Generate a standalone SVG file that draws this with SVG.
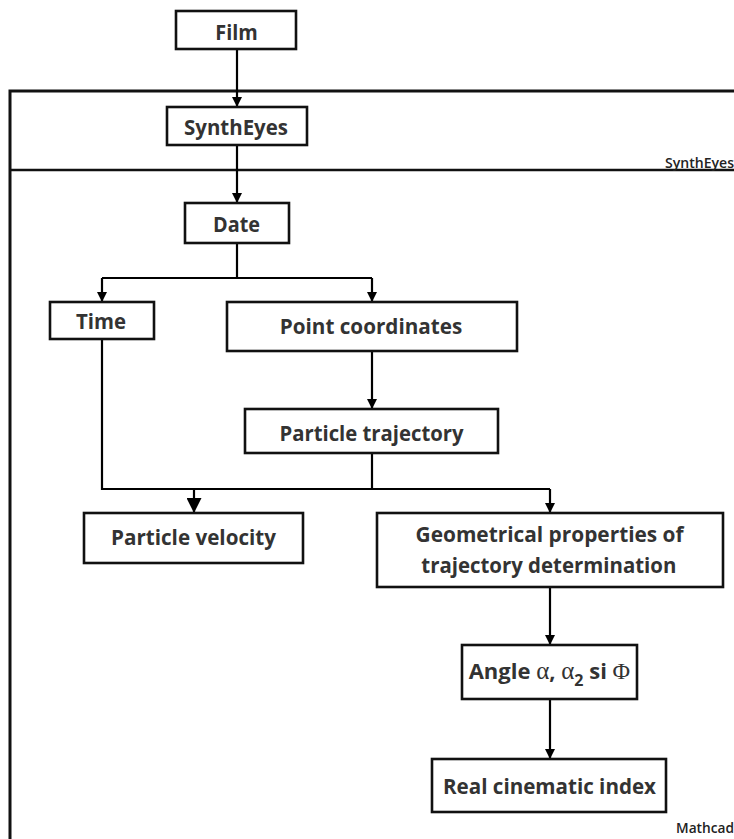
<svg xmlns="http://www.w3.org/2000/svg" width="734" height="839" viewBox="0 0 734 839">
<style>
.box{fill:#fff;stroke:#111;stroke-width:2.6}
.t{font-family:"Open Sans","Noto Sans","Liberation Sans",sans-serif;font-weight:700;font-size:22px;fill:#333;text-anchor:middle}
.lbl{font-family:"Open Sans","Noto Sans","Liberation Sans",sans-serif;font-weight:600;font-size:13.5px;fill:#222}
.c{fill:none;stroke:#000;stroke-width:2.2}
.g{font-family:"Liberation Serif","Times New Roman",serif;font-weight:400}
</style>
<defs>
<marker id="a" viewBox="0 0 10 10" refX="10" refY="5" markerWidth="10" markerHeight="10" markerUnits="userSpaceOnUse" orient="auto"><path d="M0,0 L10,5 L0,10 Z" fill="#000"/></marker>
<marker id="b" viewBox="0 0 10 10" refX="10" refY="5" markerWidth="15" markerHeight="15" markerUnits="userSpaceOnUse" orient="auto"><path d="M0,0 L10,5 L0,10 Z" fill="#000"/></marker>
</defs>
<rect width="734" height="839" fill="#fff"/>
<g id="frame">
<rect x="10" y="91" width="740" height="760" fill="none" stroke="#111" stroke-width="3"/>
<line x1="10" y1="170" x2="734" y2="170" stroke="#111" stroke-width="2.6"/>
<text class="lbl" x="734" y="168" text-anchor="end" textLength="69" lengthAdjust="spacingAndGlyphs">SynthEyes</text>
<text class="lbl" x="734" y="833" text-anchor="end" textLength="58" lengthAdjust="spacingAndGlyphs">Mathcad</text>
</g>
<g id="connectors">
<path class="c" d="M237,50 V107" marker-end="url(#a)"/>
<path class="c" d="M237,146 V203" marker-end="url(#a)"/>
<path class="c" d="M237,243 V278 M102,278 H372"/>
<path class="c" d="M102,278 V302" marker-end="url(#a)"/>
<path class="c" d="M372,278 V302" marker-end="url(#a)"/>
<path class="c" d="M372,351 V409" marker-end="url(#a)"/>
<path class="c" d="M102,339 V489 H550 M372,453 V489"/>
<path class="c" d="M194,489 V513" marker-end="url(#b)"/>
<path class="c" d="M550,489 V513" marker-end="url(#a)"/>
<path class="c" d="M550,587 V645" marker-end="url(#a)"/>
<path class="c" d="M550,699 V759" marker-end="url(#a)"/>
</g>
<g id="film"><rect class="box" x="176" y="11" width="120" height="38"/><text class="t" x="236.5" y="39.5" font-size="20" textLength="42.5" lengthAdjust="spacingAndGlyphs">Film</text></g>
<g id="syntheyes"><rect class="box" x="167" y="107" width="140" height="38"/><text class="t" x="236" y="135" font-size="20" textLength="104" lengthAdjust="spacingAndGlyphs">SynthEyes</text></g>
<g id="date"><rect class="box" x="185" y="203" width="104" height="40"/><text class="t" x="236.5" y="232.3" textLength="47" lengthAdjust="spacingAndGlyphs">Date</text></g>
<g id="time"><rect class="box" x="50" y="302" width="104" height="37"/><text class="t" x="101" y="329.3" textLength="50" lengthAdjust="spacingAndGlyphs">Time</text></g>
<g id="point-coordinates"><rect class="box" x="227" y="302" width="290" height="49"/><text class="t" x="371" y="334.3" textLength="182.5" lengthAdjust="spacingAndGlyphs">Point coordinates</text></g>
<g id="particle-trajectory"><rect class="box" x="245" y="409" width="253" height="44"/><text class="t" x="371.5" y="440.7" textLength="184" lengthAdjust="spacingAndGlyphs">Particle trajectory</text></g>
<g id="particle-velocity"><rect class="box" x="84" y="513" width="219" height="50"/><text class="t" x="193.5" y="545" textLength="165" lengthAdjust="spacingAndGlyphs">Particle velocity</text></g>
<g id="geometrical"><rect class="box" x="377" y="513" width="346" height="74"/><text class="t" x="549.6" y="542.3" textLength="268" lengthAdjust="spacingAndGlyphs">Geometrical properties of</text><text class="t" x="548.8" y="573" textLength="255" lengthAdjust="spacingAndGlyphs">trajectory determination</text></g>
<g id="angle"><rect class="box" x="462" y="645" width="175" height="54"/><text class="t" x="549.4" y="678.7">Angle <tspan class="g" font-size="25">α</tspan>, <tspan class="g" font-size="25">α</tspan><tspan font-size="16" dy="7">2</tspan><tspan dy="-7"> si </tspan><tspan class="g" font-size="24">Φ</tspan></text></g>
<g id="real-cinematic-index"><rect class="box" x="432" y="759" width="234" height="53"/><text class="t" x="549.5" y="794.3" textLength="213" lengthAdjust="spacingAndGlyphs">Real cinematic index</text></g>
</svg>
